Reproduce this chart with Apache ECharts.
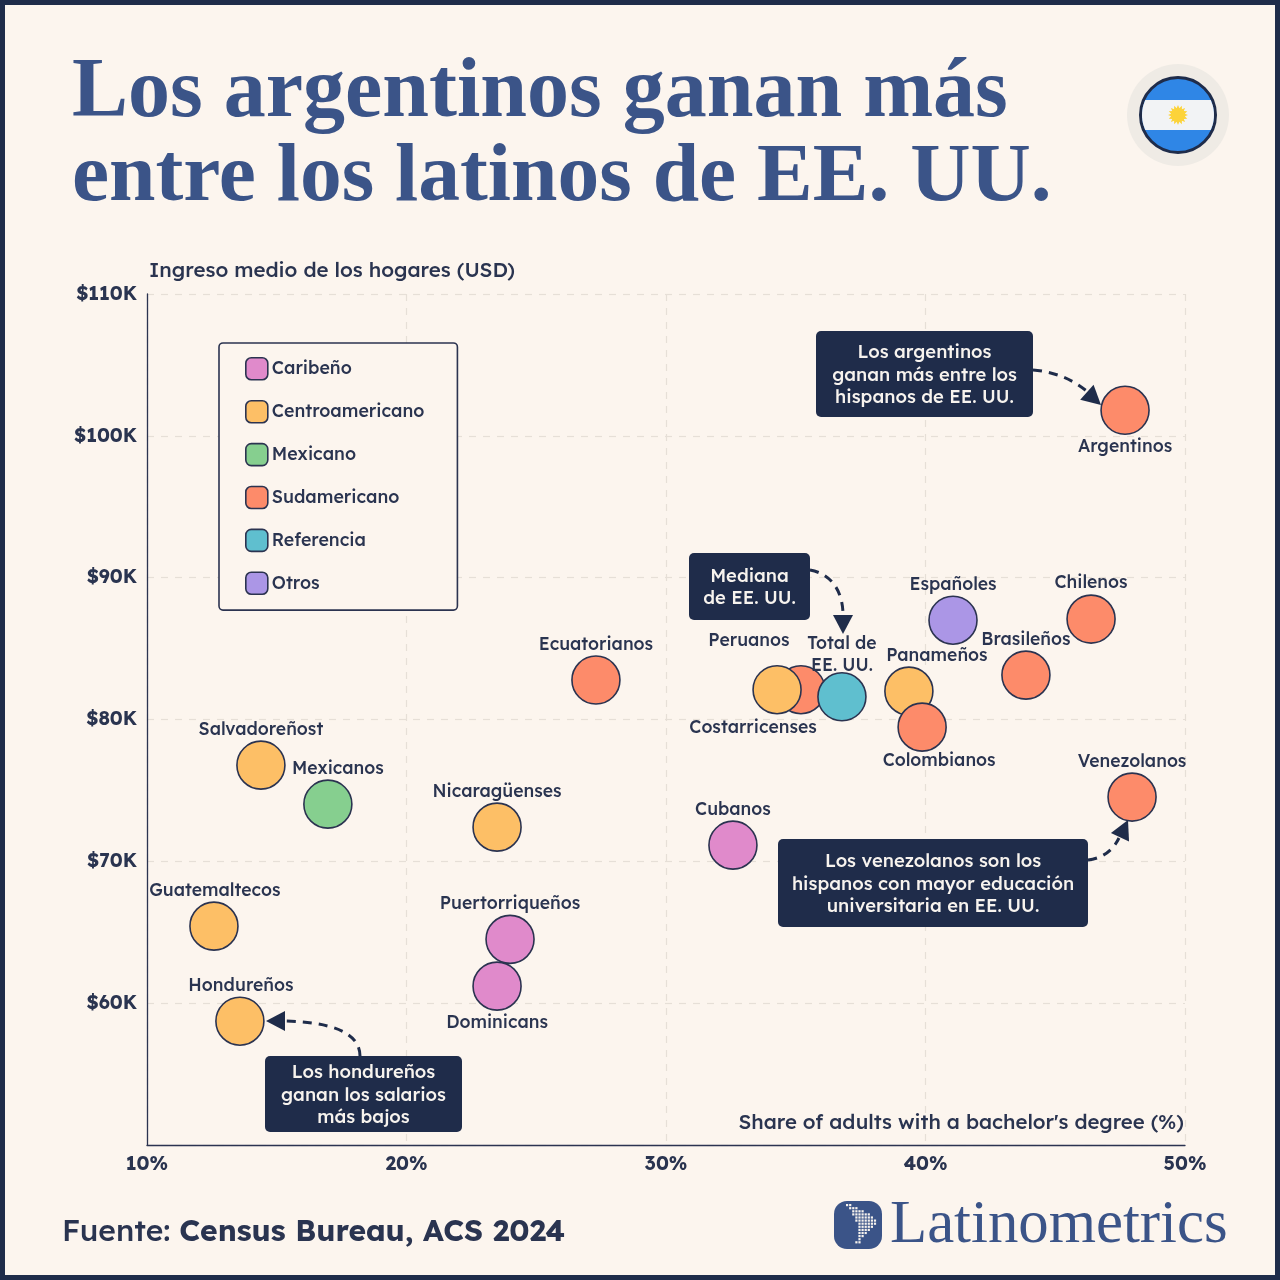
<!DOCTYPE html>
<html><head><meta charset="utf-8">
<style>html,body{margin:0;padding:0;background:#fcf5ee}#c{width:1280px;height:1280px}</style>
<script src="https://cdn.jsdelivr.net/npm/echarts@6/dist/echarts.min.js"></script>
</head><body><div id="c"></div>
<script>
const legendNames = ['Caribeño','Centroamericano','Mexicano','Sudamericano','Referencia','Otros'];
const colors = {Caribeño:'#e08acb',Centroamericano:'#fdbf66',Mexicano:'#86cf8f',Sudamericano:'#fd8b6a',Referencia:'#5fbfcf',Otros:'#ab96e6'};
const caribeno = [['Cubanos',32.58,71.14],['Puertorriqueños',23.99,64.5],['Dominicans',23.49,61.2]];
const centro = [['Costarricenses',34.28,82.1],['Panameños',39.36,82.0],['Salvadoreñost',14.39,76.78],['Nicaragüenses',23.49,72.41],['Guatemaltecos',12.58,65.43],['Hondureños',13.58,58.73]];
const mexicano = [['Mexicanos',16.97,74.03]];
const sudBehind = [['Peruanos',35.2,82.1]];
const sudamericano = [['Argentinos',47.69,101.8],['Chilenos',46.38,87.08],['Brasileños',43.87,83.13],['Colombianos',39.87,79.46],['Venezolanos',47.96,74.53],['Ecuatorianos',27.3,82.78]];
const referencia = [['Total de\nEE. UU.',36.78,81.6]];
const otros = [['Españoles',41.06,87.0]];
const xTicks = [10,20,30,40,50];
const yTicks = [50,60,70,80,90,100,110];

const labelOffsets = {Argentinos:[0,36],Chilenos:[0,-36],'Españoles':[0,-35],'Brasileños':[0,-35],Peruanos:[-52,-49],Costarricenses:[-24,38],
 'Total de\nEE. UU.':[0,-42],'Panameños':[28,-35],Colombianos:[17,34],Venezolanos:[0,-35],Cubanos:[0,-35],Ecuatorianos:[0,-35],
 'Salvadoreñost':[0,-35],Mexicanos:[10,-35],'Nicaragüenses':[0,-35],Guatemaltecos:[1,-35],'Puertorriqueños':[0,-36],Dominicans:[0,37],'Hondureños':[1,-35]};

const BODY = 'Lexend, Lato, "Noto Sans", sans-serif';
const NAVY = '#1f2c4a', BLUE = '#3b5488', INK = '#2a3450';
const BG = '#fcf5ee';

function mk(name, rows){
  return {type:'scatter',name,symbolSize:48,
    itemStyle:{color:colors[name],borderColor:'#2b3350',borderWidth:1.6,opacity:1},
    emphasis:{disabled:true},
    label:{show:true,position:'inside',color:INK,fontFamily:BODY,fontSize:17.6,fontWeight:500,lineHeight:22,
      formatter:p=>p.name},
    data:rows.map(r=>({name:r[0],value:[r[1],r[2]],label:{offset:labelOffsets[r[0]]}}))};
}

function box(x,y,w,h,lines){
  return [{type:'rect',shape:{x,y,width:w,height:h,r:5},style:{fill:NAVY},z:20},
    {type:'text',x:x+w/2,y:y+h/2+1,style:{text:lines.join('\n'),fill:'#f7f3ee',font:'500 18.4px '+BODY,lineHeight:22.5,align:'center',verticalAlign:'middle'},z:21}];
}
function dashed(x1,y1,cpx1,cpy1,cpx2,cpy2,x2,y2){
  return {type:'bezierCurve',shape:{x1,y1,cpx1,cpy1,cpx2,cpy2,x2,y2},style:{stroke:NAVY,lineWidth:3,lineDash:[9,7],fill:'none'},z:19};
}
function head(tip,angleDeg){
  const a=angleDeg*Math.PI/180,L=19,W=10;
  const bx=tip[0]-L*Math.cos(a),by=tip[1]-L*Math.sin(a);
  const nx=-Math.sin(a),ny=Math.cos(a);
  return {type:'polygon',shape:{points:[tip,[bx+nx*W,by+ny*W],[bx-nx*W,by-ny*W]]},style:{fill:NAVY},z:19};
}

// flag sun and white band
const sunPts=[];for(let i=0;i<32;i++){const r=i%2?7:10,t=i*Math.PI/16;sunPts.push([1178+r*Math.cos(t),115+r*Math.sin(t)]);}
const bandPts=[];const R=36,hb=15,a0=Math.asin(hb/R);
for(let i=0;i<=12;i++){const t=-a0+2*a0*i/12;bandPts.push([1178+R*Math.cos(t),115+R*Math.sin(t)]);}
for(let i=0;i<=12;i++){const t=Math.PI-a0+2*a0*i/12;bandPts.push([1178+R*Math.cos(t),115+R*Math.sin(t)]);}
// logo dot map
const mapRows=['11........','.111......','..1111....','..111111..','...111111.','...1111111','....111111','....11111.','....1111..','....111...','....11....','....1.....','...11.....'];
const dots=[];mapRows.forEach((row,j)=>[...row].forEach((c,i)=>{if(c==='1')dots.push({type:'rect',shape:{x:846+i*3.1,y:1204+j*3.1,width:2.2,height:2.2},style:{fill:'#f7f3ee'},z:11});}));

const graphic=[
 {type:'rect',shape:{x:2.5,y:2.5,width:1275,height:1275},style:{fill:'none',stroke:'#1f2c4a',lineWidth:5},z:30},
 {type:'circle',shape:{cx:1178,cy:115,r:51},style:{fill:'#efebe5'},z:10},
 {type:'circle',shape:{cx:1178,cy:115,r:37.5},style:{fill:'#2f86e6',stroke:'#1f2c4a',lineWidth:3},z:11},
 {type:'polygon',shape:{points:bandPts},style:{fill:'#f2f3f5'},z:12},
 {type:'polygon',shape:{points:sunPts},style:{fill:'#fcd33a'},z:13},
 {type:'text',x:72,y:94,style:{text:'Los argentinos ganan más',fill:BLUE,font:'700 84px "Liberation Serif", serif',verticalAlign:'middle'},z:10},
 {type:'text',x:72,y:178,style:{text:'entre los latinos de EE. UU.',fill:BLUE,font:'700 83.5px "Liberation Serif", serif',verticalAlign:'middle'},z:10},
 {type:'text',x:62,y:1232,style:{rich:{a:{font:'500 30px '+BODY,fill:INK},b:{font:'700 30px '+BODY,fill:INK}},text:'{a|Fuente: }{b|Census Bureau, ACS 2024}',verticalAlign:'middle'},z:10},
 {type:'rect',shape:{x:834,y:1201,width:48,height:48,r:13},style:{fill:BLUE},z:10},
 ...dots,
 {type:'text',x:890,y:1226,style:{text:'Latinometrics',fill:BLUE,font:'500 60.8px "Liberation Serif", serif',verticalAlign:'middle'},z:10},
 ...box(816,331,217,86,['Los argentinos','ganan más entre los','hispanos de EE. UU.']),
 ...box(689,553,121,67,['Mediana','de EE. UU.']),
 ...box(778,839,310,88,['Los venezolanos son los','hispanos con mayor educación','universitaria en EE. UU.']),
 ...box(265,1056,197,76,['Los hondureños','ganan los salarios','más bajos']),
 dashed(1033,370,1060,372,1080,384,1092,396), head([1101,405],42),
 dashed(810,570,832,574,843,592,843,615), head([843,634],90),
 dashed(1088,860,1105,858,1114,848,1119,838), head([1128,820],-65),
 dashed(360,1056,360,1030,325,1022,285,1021), head([266,1021],180)
];

const option={
 backgroundColor:BG,animation:false,
 textStyle:{fontFamily:BODY},
 grid:{left:147,right:95,top:294,bottom:135,containLabel:false},
 legend:{left:219,top:343,orient:'vertical',data:legendNames,itemWidth:22,itemHeight:22,itemGap:19.3,
   padding:[14,33,15,26],borderColor:'#2b3350',borderWidth:1.6,borderRadius:4,backgroundColor:BG,
   selectedMode:false,icon:'roundRect',
   itemStyle:{borderColor:'#2b3350',borderWidth:1.6},
   textStyle:{color:INK,fontFamily:BODY,fontSize:17.8,fontWeight:500,padding:[0,0,0,-1]},z:5},
 xAxis:{type:'value',min:xTicks[0],max:xTicks[xTicks.length-1],interval:10,
   name:"Share of adults with a bachelor's degree (%)",nameLocation:'end',nameGap:-1,
   nameTextStyle:{color:INK,fontFamily:BODY,fontSize:20.4,fontWeight:500,align:'right',verticalAlign:'bottom',padding:[0,0,12,0]},
   axisLine:{lineStyle:{color:'#2b3350',width:1.3}},axisTick:{show:false},
   axisLabel:{color:INK,fontFamily:BODY,fontSize:19.2,fontWeight:700,margin:10,formatter:v=>v+'%'},
   splitLine:{show:true,lineStyle:{color:'#e6dfd7',type:[7,7],width:1.2}}},
 yAxis:{type:'value',min:yTicks[0],max:yTicks[yTicks.length-1],interval:10,
   name:'Ingreso medio de los hogares (USD)',nameLocation:'end',nameGap:13,
   nameTextStyle:{color:INK,fontFamily:BODY,fontSize:20.5,fontWeight:500,align:'left',padding:[0,0,0,2]},
   axisLine:{show:true,lineStyle:{color:'#2b3350',width:1.3}},axisTick:{show:false},
   axisLabel:{color:INK,fontFamily:BODY,fontSize:19.2,fontWeight:700,margin:10,formatter:v=>v===50?'':'$'+v+'K'},
   splitLine:{show:true,lineStyle:{color:'#e6dfd7',type:[7,7],width:1.2}}},
 series:[mk('Sudamericano',sudBehind),mk('Centroamericano',centro),mk('Sudamericano',sudamericano),
   mk('Caribeño',caribeno),mk('Mexicano',mexicano),mk('Referencia',referencia),mk('Otros',otros)],
 graphic:{elements:graphic}
};
echarts.init(document.getElementById('c'),null,{renderer:'canvas'}).setOption(option);
</script></body></html>
